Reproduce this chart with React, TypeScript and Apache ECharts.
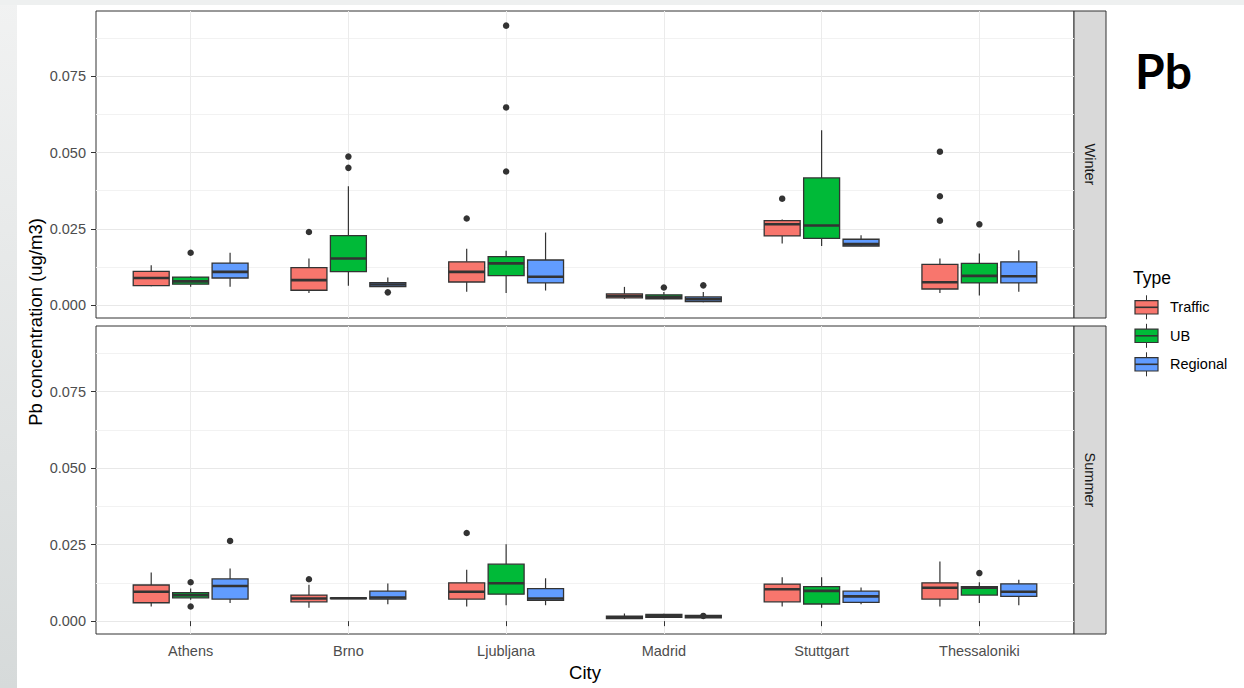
import React, { useEffect, useRef } from "react";
import * as echarts from "echarts";

const cities = ["Athens", "Brno", "Ljubljana", "Madrid", "Stuttgart", "Thessaloniki"];
const types = ["Traffic", "UB", "Regional"];
const seasons = ["Winter", "Summer"];
const typeColors = ["#F8766D", "#00BA38", "#619CFF"];
const yTicks = [0, 0.025, 0.05, 0.075];
const yMinorTicks = [0.0125, 0.0375, 0.0625, 0.0875];

// [lower whisker, q1, median, q3, upper whisker] per city
const winterTraffic = [
  [0.0062, 0.0064, 0.0089, 0.0111, 0.0131],
  [0.004, 0.0049, 0.0082, 0.0123, 0.0153],
  [0.0044, 0.0076, 0.0109, 0.0142, 0.0185],
  [0.002, 0.0024, 0.003, 0.0037, 0.006],
  [0.0202, 0.0227, 0.0265, 0.0277, 0.0281],
  [0.004, 0.0053, 0.0075, 0.0134, 0.0153],
];
const winterUB = [
  [0.006, 0.0069, 0.0078, 0.0092, 0.0095],
  [0.0064, 0.011, 0.0153, 0.0228, 0.039],
  [0.004, 0.0097, 0.0137, 0.0159, 0.0178],
  [0.0019, 0.0021, 0.0027, 0.0034, 0.0043],
  [0.0194, 0.0219, 0.0261, 0.0417, 0.0573],
  [0.0032, 0.0073, 0.0096, 0.0137, 0.0169],
];
const winterRegional = [
  [0.006, 0.0089, 0.0109, 0.0138, 0.0172],
  [0.0061, 0.0061, 0.0068, 0.0074, 0.0091],
  [0.0048, 0.0073, 0.0093, 0.0148, 0.0238],
  [0.001, 0.0012, 0.002, 0.0027, 0.0043],
  [0.0193, 0.0194, 0.02, 0.0216, 0.0229],
  [0.0044, 0.0073, 0.0095, 0.0142, 0.018],
];
const summerTraffic = [
  [0.0048, 0.006, 0.0096, 0.0118, 0.0159],
  [0.0044, 0.0063, 0.0074, 0.0085, 0.0119],
  [0.0048, 0.0072, 0.0096, 0.0125, 0.0168],
  [0.0007, 0.0008, 0.0012, 0.0016, 0.0025],
  [0.0048, 0.0063, 0.0104, 0.0121, 0.0143],
  [0.0048, 0.0072, 0.0109, 0.0125, 0.0195],
];
const summerUB = [
  [0.007, 0.0076, 0.0085, 0.0093, 0.0107],
  [0.0073, 0.0074, 0.0075, 0.0076, 0.0077],
  [0.0052, 0.0088, 0.0124, 0.0186, 0.0251],
  [0.001, 0.0012, 0.0016, 0.0022, 0.0024],
  [0.0044, 0.0056, 0.0099, 0.0113, 0.0143],
  [0.0059, 0.0085, 0.0109, 0.0113, 0.0127],
];
const summerRegional = [
  [0.0059, 0.0072, 0.0115, 0.0138, 0.0172],
  [0.0055, 0.0072, 0.0077, 0.0098, 0.0123],
  [0.0052, 0.0068, 0.0074, 0.0106, 0.014],
  [0.0009, 0.0011, 0.0015, 0.0019, 0.0021],
  [0.0055, 0.0061, 0.0081, 0.0098, 0.011],
  [0.0052, 0.0081, 0.0096, 0.0122, 0.0135],
];

// outliers: [cityIndex, value]
const winterTrafficOut = [[1, 0.024], [2, 0.0284], [4, 0.0349], [5, 0.0503], [5, 0.0357], [5, 0.0277]];
const winterUBOut = [[0, 0.0172], [1, 0.0487], [1, 0.045], [2, 0.0916], [2, 0.0648], [2, 0.0438], [3, 0.0058], [5, 0.0265]];
const winterRegionalOut = [[1, 0.0042], [3, 0.0065]];
const summerTrafficOut = [[1, 0.0137], [2, 0.0288]];
const summerUBOut = [[0, 0.0127], [0, 0.0048], [5, 0.0157]];
const summerRegionalOut = [[0, 0.0262], [3, 0.0017]];

const boxes = [
  [winterTraffic, winterUB, winterRegional],
  [summerTraffic, summerUB, summerRegional],
];
const outliers = [
  [winterTrafficOut, winterUBOut, winterRegionalOut],
  [summerTrafficOut, summerUBOut, summerRegionalOut],
];

const FONT = "'Liberation Sans', Arial, sans-serif";
const DODGE = [-0.25, 0, 0.25];
const HALF_W = 0.114;
const Y_MIN = -0.0042;
const Y_MAX = 0.0964;
const PANEL_LEFT = 96;
const PANEL_W = 978;
const PANELS = [
  { top: 11, height: 307 },
  { top: 326, height: 308 },
];

function makeRender(t: number) {
  return (params: any, api: any) => {
    const xc = api.value(0) + DODGE[t];
    const lo = api.coord([xc, api.value(1)]);
    const q1 = api.coord([xc, api.value(2)]);
    const md = api.coord([xc, api.value(3)]);
    const q3 = api.coord([xc, api.value(4)]);
    const hi = api.coord([xc, api.value(5)]);
    const left = api.coord([xc - HALF_W, api.value(3)])[0];
    const right = api.coord([xc + HALF_W, api.value(3)])[0];
    const stroke = "#333333";
    return {
      type: "group",
      children: [
        { type: "line", shape: { x1: hi[0], y1: hi[1], x2: q3[0], y2: q3[1] }, style: { stroke, lineWidth: 1.2 } },
        { type: "line", shape: { x1: q1[0], y1: q1[1], x2: lo[0], y2: lo[1] }, style: { stroke, lineWidth: 1.2 } },
        {
          type: "rect",
          shape: { x: left, y: q3[1], width: right - left, height: Math.max(q1[1] - q3[1], 0.5) },
          style: { fill: typeColors[t], stroke, lineWidth: 1.3 },
        },
        { type: "line", shape: { x1: left, y1: md[1], x2: right, y2: md[1] }, style: { stroke, lineWidth: 2.6 } },
      ],
    };
  };
}

export default function App() {
  const ref = useRef<HTMLDivElement>(null);
  useEffect(() => {
    if (!ref.current) return;
    const chart = echarts.init(ref.current, null, { renderer: "svg" });

    const grids = PANELS.map((p) => ({
      left: PANEL_LEFT,
      top: p.top,
      width: PANEL_W,
      height: p.height,
      show: true,
      borderColor: "#333333",
      borderWidth: 1,
      backgroundColor: "transparent",
    }));

    const xAxes = PANELS.map((_, p) => ({
      type: "value",
      gridIndex: p,
      position: "bottom",
      min: -0.6,
      max: 5.6,
      axisLine: { show: false },
      axisTick: {
        show: p === 1,
        customValues: cities.map((_, i) => i),
        length: 5,
        lineStyle: { color: "#333333", width: 1 },
      },
      axisLabel: {
        show: p === 1,
        customValues: cities.map((_, i) => i),
        formatter: (v: number) => cities[Math.round(v)] ?? "",
        color: "#4d4d4d",
        fontSize: 14.5,
        fontFamily: FONT,
        margin: 9,
      },
      splitLine: { show: true, lineStyle: { color: "#ebebeb", width: 1 } },
      name: p === 1 ? "City" : "",
      nameLocation: "middle",
      nameGap: 29,
      nameTextStyle: { color: "#000", fontSize: 18.5, fontFamily: FONT },
    }));

    const yAxes: any[] = [];
    PANELS.forEach((_, p) => {
      yAxes.push({
        type: "value",
        gridIndex: p,
        position: "left",
        min: Y_MIN,
        max: Y_MAX,
        axisLine: { show: false },
        axisTick: { show: false, customValues: yMinorTicks },
        axisLabel: { show: false, customValues: yMinorTicks },
        splitLine: { show: true, lineStyle: { color: "#f2f2f2", width: 1 } },
      });
      yAxes.push({
        type: "value",
        gridIndex: p,
        position: "left",
        offset: 0,
        min: Y_MIN,
        max: Y_MAX,
        axisLine: { show: false },
        axisTick: { show: true, customValues: yTicks, length: 5, lineStyle: { color: "#333333", width: 1 } },
        axisLabel: {
          customValues: yTicks,
          formatter: (v: number) => v.toFixed(3),
          color: "#4d4d4d",
          fontSize: 14.5,
          fontFamily: FONT,
          margin: 10,
        },
        splitLine: { show: true, lineStyle: { color: "#e8e8e8", width: 1 } },
      });
    });

    const series: any[] = [];
    PANELS.forEach((_, p) => {
      types.forEach((name, t) => {
        series.push({
          type: "custom",
          name,
          xAxisIndex: p,
          yAxisIndex: p * 2 + 1,
          renderItem: makeRender(t),
          encode: { x: 0, y: [1, 2, 3, 4, 5] },
          data: boxes[p][t].map((b, i) => [i, ...b]),
          z: 3,
          silent: true,
        });
        series.push({
          type: "scatter",
          name: name + " outliers",
          xAxisIndex: p,
          yAxisIndex: p * 2 + 1,
          data: outliers[p][t].map(([i, v]) => [i + DODGE[t], v]),
          symbolSize: 6.5,
          itemStyle: { color: "#333333", opacity: 1 },
          z: 4,
          silent: true,
        });
      });
    });

    const graphics: any[] = [];
    // facet strips
    PANELS.forEach((p, i) => {
      graphics.push({
        type: "rect",
        shape: { x: PANEL_LEFT + PANEL_W, y: p.top, width: 32, height: p.height },
        style: { fill: "#d9d9d9", stroke: "#333333", lineWidth: 1 },
      });
      graphics.push({
        type: "text",
        x: PANEL_LEFT + PANEL_W + 16,
        y: p.top + p.height / 2,
        rotation: -Math.PI / 2,
        style: {
          text: seasons[i],
          align: "center",
          verticalAlign: "middle",
          fontSize: 14.5,
          fontFamily: FONT,
          fill: "#1a1a1a",
        },
      });
    });
    // y axis title
    graphics.push({
      type: "text",
      x: 35,
      y: 322,
      rotation: Math.PI / 2,
      style: {
        text: "Pb concentration (ug/m3)",
        align: "center",
        verticalAlign: "middle",
        fontSize: 18.5,
        fontFamily: FONT,
        fill: "#000",
      },
    });
    // legend
    graphics.push({
      type: "text",
      x: 1133,
      y: 278,
      style: { text: "Type", align: "left", verticalAlign: "middle", fontSize: 17.5, fontFamily: FONT, fill: "#000" },
    });
    types.forEach((name, t) => {
      const c = 307.3 + t * 28.5;
      const kx = 1135;
      const kw = 23;
      const kh = 13.4;
      graphics.push({ type: "line", shape: { x1: kx + kw / 2, y1: c - 12, x2: kx + kw / 2, y2: c - kh / 2 }, style: { stroke: "#333", lineWidth: 1 } });
      graphics.push({ type: "line", shape: { x1: kx + kw / 2, y1: c + kh / 2, x2: kx + kw / 2, y2: c + 12 }, style: { stroke: "#333", lineWidth: 1 } });
      graphics.push({ type: "rect", shape: { x: kx, y: c - kh / 2, width: kw, height: kh }, style: { fill: typeColors[t], stroke: "#333", lineWidth: 1.2 } });
      graphics.push({ type: "line", shape: { x1: kx, y1: c, x2: kx + kw, y2: c }, style: { stroke: "#333", lineWidth: 1.6 } });
      graphics.push({
        type: "text",
        x: 1170,
        y: c,
        style: { text: name, align: "left", verticalAlign: "middle", fontSize: 14.5, fontFamily: FONT, fill: "#000" },
      });
    });
    // big element label
    graphics.push({
      type: "text",
      x: 1135,
      y: 70,
      style: { text: "Pb", align: "left", verticalAlign: "middle", fontSize: 48, fontWeight: "bold", fontFamily: "Lato, 'Open Sans', sans-serif", fill: "#000" },
    });

    chart.setOption({
      animation: false,
      backgroundColor: "transparent",
      textStyle: { fontFamily: FONT },
      grid: grids,
      xAxis: xAxes,
      yAxis: yAxes,
      series,
      graphic: { elements: graphics },
    });
    return () => chart.dispose();
  }, []);

  return (
    <div
      style={{
        position: "absolute",
        left: 0,
        top: 0,
        width: 1244,
        height: 688,
        background:
          "linear-gradient(#eef0f0, #eef0f0) 0 0 / 100% 5px no-repeat, linear-gradient(180deg, #f1f2f2, #d6dada) 0 0 / 17px 100% no-repeat, #ffffff",
      }}
    >
      <div ref={ref} style={{ width: 1244, height: 688 }} />
    </div>
  );
}
